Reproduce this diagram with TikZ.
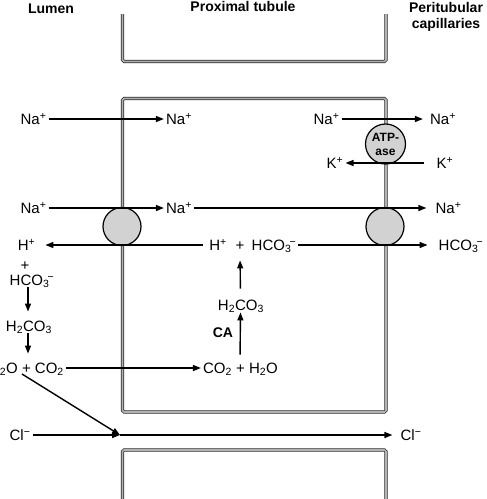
\documentclass[tikz,border=0pt]{standalone}
\usepackage{fontspec}
\setmainfont{Liberation Sans}
\usetikzlibrary{arrows.meta}
\newcommand{\hcoion}{HCO\textsubscript{3}\kern-0.12em\textsuperscript{−}}
\newcommand{\pl}[1]{#1\textsuperscript{+}}
\begin{document}
\begin{tikzpicture}[x=1pt,y=-1pt,
  lab/.style={font=\fontsize{15}{17}\selectfont, inner sep=2pt, text height=10.5pt, text depth=0pt},
  blab/.style={font=\fontsize{14}{16}\selectfont\bfseries, inner sep=0pt, align=center},
  wall/.style={draw=black!85, line width=0.75pt, double=gray!60, double distance=1.6pt, rounded corners=1.5pt},
  flow/.style={line width=1.4pt, -{Triangle[length=8pt,width=6pt]}},
  pump/.style={circle, draw, line width=1.2pt, fill=gray!35, minimum size=38pt, inner sep=0pt}]
\useasboundingbox (0,0) rectangle (487,499);

% titles
\node[blab, anchor=north] (lumen) at (51,4) {Lumen};
\node[blab, anchor=north] (prox) at (243,1) {Proximal tubule};
\node[blab, anchor=north] (peri) at (446,2) {Peritubular\\capillaries};

% cell walls
\draw[wall] (122.5,14) -- (122.5,61.5) -- (386,61.5) -- (386,14);
\draw[wall] (122.5,98.5) rectangle (386,412);
\draw[wall] (122.5,505) -- (122.5,450) -- (386,450) -- (386,505);

% transporters
\node[pump] (cot) at (122,226.5) {};
\node[pump] (ex) at (385,226.5) {};
\node[pump, minimum size=40pt, font=\fontsize{12}{14}\selectfont\bfseries, align=center] (atp) at (385.5,144) {ATP-\\ase};

% row 1: Na+
\node[lab] (na1) at (33.5,119) {\pl{Na}};
\node[lab] (na2) at (179,119) {\pl{Na}};
\node[lab] (na3) at (326.5,119) {\pl{Na}};
\node[lab] (na4) at (443,119) {\pl{Na}};
\draw[flow] (na1) -- (na2);
\draw[flow, shorten >=5pt] (na3) -- (na4);

% K+
\node[lab] (k1) at (335,163) {\pl{K}};
\node[lab] (k2) at (445,163) {\pl{K}};
\draw[flow, shorten <=10pt] (k2) -- (k1);

% row 2: Na+
\node[lab] (nb1) at (33.5,208) {\pl{Na}};
\node[lab] (nb2) at (179,208) {\pl{Na}};
\node[lab] (nb3) at (448.5,208) {\pl{Na}};
\draw[flow] (nb1) -- (nb2);
\draw[flow, shorten >=7pt] (nb2) -- (nb3);

% row 3: H+ and HCO3-
\node[lab] (h1) at (26.5,245) {\pl{H}};
\node[lab] (h2) at (218,245) {\pl{H}};
\node[lab] (plus) at (240,245) {+};
\node[lab] (hc1) at (274,245) {\hcoion};
\node[lab] (hc2) at (461,245) {\hcoion};
\draw[flow, shorten >=8pt, shorten <=4pt] (h2) -- (h1);
\draw[flow, shorten >=9pt] (hc1) -- (hc2);

% lumen reactions
\node[lab] (lplus) at (25,265.5) {+};
\node[lab] (lhc) at (32,280) {\hcoion};
\node[lab] (lh2) at (29,326) {H\textsubscript{2}CO\textsubscript{3}};
\node[lab, anchor=east] (w1) at (66,368) {H\textsubscript{2}O + CO\textsubscript{2}};
\draw[flow, shorten >=7pt] ([xshift=-4pt]lhc.south) -- ([xshift=-1pt]lh2.north);
\draw[flow, shorten >=7pt] ([xshift=-1pt]lh2.south) -- (w1.north -| 28,0);

% cell reactions
\node[lab] (cw) at (240.5,368) {CO\textsubscript{2} + H\textsubscript{2}O};
\node[lab] (ch2) at (241,305) {H\textsubscript{2}CO\textsubscript{3}};
\node[blab] (ca) at (223,333) {CA};
\draw[flow] (w1) -- (cw);
\draw[flow, shorten <=6pt] ([xshift=-0.5pt]cw.north) -- (ch2.south -| cw.north);
\draw[flow, shorten <=9pt, shorten >=8pt] (ch2.north -| cw.north) -- (plus.south);

% chloride
\node[lab] (cl1) at (20,435) {Cl\textsuperscript{−}};
\node[lab] (cl2) at (411,435) {Cl\textsuperscript{−}};
\coordinate (cj) at (120,435);
\coordinate (dstart) at (22,374);
\draw[flow] (cl1) -- (cj);
\draw[flow, shorten >=6pt] (cj) -- (cl2);
\draw[flow] (dstart) -- (cj);
\end{tikzpicture}
\end{document}
